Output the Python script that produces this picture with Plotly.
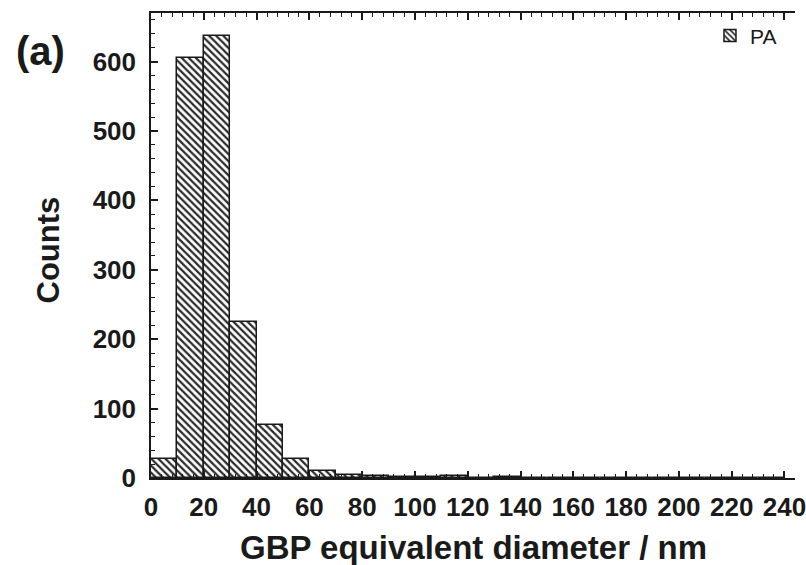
import plotly.graph_objects as go

# Histogram of grain-boundary-pore equivalent diameters (10 nm bins)
bin_left = list(range(0, 240, 10))
counts = [27, 605, 637, 225, 77, 27, 10, 4, 3, 2, 2, 3, 0, 2,
          0, 0, 0, 0, 0, 0, 0, 0, 0, 0]
series_name = "PA"
x_ticks = list(range(0, 241, 20))
y_ticks = list(range(0, 601, 100))

bin_centers = [b + 5 for b in bin_left]

FONT = "Liberation Sans, Arial, sans-serif"

fig = go.Figure()
fig.add_trace(go.Bar(
    x=bin_centers,
    y=counts,
    width=10,
    name=series_name,
    marker=dict(
        color="white",
        line=dict(color="#1a1a1a", width=1.5),
        pattern=dict(shape="\\", size=5, solidity=0.45,
                     fgcolor="#2a2a2a", bgcolor="white", fillmode="replace"),
    ),
))

axis_common = dict(
    showline=True, linecolor="#1a1a1a", linewidth=1.5,
    ticks="inside", ticklen=7, tickwidth=1.5, tickcolor="#1a1a1a",
    showgrid=False, zeroline=False,
    ticklabeloverflow="allow",
    tickfont=dict(family=FONT, size=26, color="#1a1a1a", weight="bold"),
)

fig.update_layout(
    width=806, height=565,
    margin=dict(l=151, r=0, t=13, b=87),
    paper_bgcolor="white", plot_bgcolor="white",
    bargap=0,
    showlegend=True,
    legend=dict(x=0.868, y=0.995, xanchor="left", yanchor="top",
                bgcolor="rgba(0,0,0,0)",
                font=dict(family=FONT, size=21, color="#1a1a1a")),
    xaxis=dict(
        range=[0, 244], tickvals=x_ticks, mirror="allticks",
        minor=dict(dtick=4, ticks="inside", ticklen=4, tickwidth=1, tickcolor="#1a1a1a"),
        ticklabelstandoff=5,
        **axis_common,
    ),
    yaxis=dict(
        range=[0, 670], tickvals=y_ticks, mirror=False,
        minor=dict(dtick=20, ticks="inside", ticklen=4, tickwidth=1, tickcolor="#1a1a1a"),
        ticklabelstandoff=8,
        **axis_common,
    ),
)

fig.add_annotation(
    text="<b>GBP equivalent diameter / nm</b>", xref="paper", yref="paper",
    x=0.5, y=0, xanchor="center", yanchor="middle", yshift=-69,
    showarrow=False, font=dict(family=FONT, size=33, color="#1a1a1a"),
)
fig.add_annotation(
    text="<b>Counts</b>", xref="paper", yref="paper", textangle=-90,
    x=0, y=0.5, xanchor="center", yanchor="middle", xshift=-103, yshift=-5,
    showarrow=False, font=dict(family=FONT, size=31, color="#1a1a1a"),
)
fig.add_annotation(
    text="<b>(a)</b>", xref="paper", yref="paper",
    x=0, y=1, xanchor="center", yanchor="middle", xshift=-111, yshift=-38,
    showarrow=False, font=dict(family=FONT, size=40, color="#1a1a1a"),
)

fig.write_html("out.html")
